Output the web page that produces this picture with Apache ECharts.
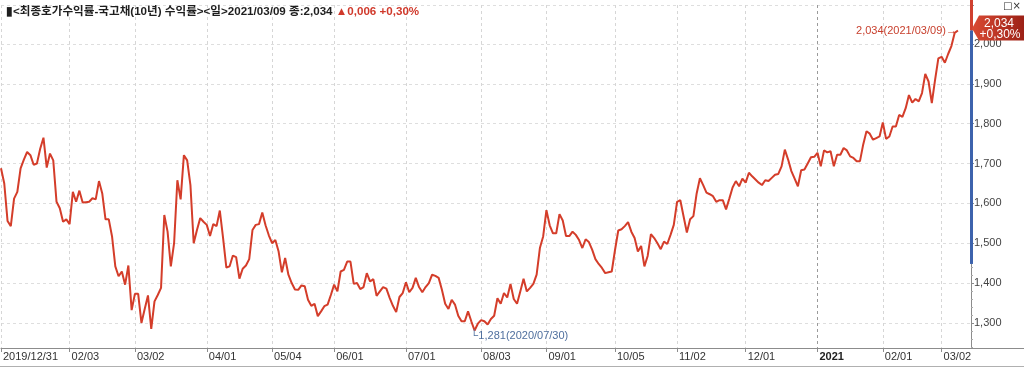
<!DOCTYPE html>
<html><head><meta charset="utf-8">
<script src="https://cdn.jsdelivr.net/npm/echarts@6/dist/echarts.min.js"></script>
<style>html,body{margin:0;padding:0;background:#fff;}#c{width:1024px;height:367px;}</style>
</head><body><div id="c"></div>
<script>
// ---- data ----
const startDate = [2019, 12, 31];
const endDate = [2021, 3, 9];
const holidays = ['2020/01/01','2020/01/24','2020/01/27','2020/04/15','2020/04/30','2020/05/01','2020/05/05',
  '2020/08/17','2020/09/30','2020/10/01','2020/10/02','2020/10/09','2020/12/25',
  '2021/01/01','2021/02/11','2021/02/12','2021/03/01'];
const tickDates = ['2019/12/31','2020/02/03','2020/03/02','2020/04/01','2020/05/04','2020/06/01','2020/07/01',
  '2020/08/03','2020/09/01','2020/10/05','2020/11/02','2020/12/01','2021/01/04','2021/02/01','2021/03/02'];
const tickLabels = ['2019/12/31','02/03','03/02','04/01','05/04','06/01','07/01',
  '08/03','09/01','10/05','11/02','12/01','2021','02/01','03/02'];
const yields1 = [
  1.688,1.650,1.556,1.543,1.612,1.629,1.688,1.710,1.729,1.721,
  1.697,1.700,1.737,1.765,1.690,1.725,1.708,1.604,1.588,1.554,
  1.560,1.548,1.629,1.604,1.632,1.602,1.603,1.604,1.613,1.610,
  1.656,1.625,1.560,1.560,1.517,1.442,1.417,1.429,1.396,1.444,
  1.332,1.373,1.373,1.300,1.335,1.369,1.285,1.354,1.370,1.388,
  1.571,1.529,1.442,1.500,1.658,1.610,1.721,1.708,1.646,1.500,
  1.533,1.563,1.554,1.546,1.518,1.548,1.543,1.582,1.513,1.439,
  1.442,1.469,1.465,1.411,1.436,1.444,1.460,1.533,1.546,1.548,
  1.577,1.545,1.520,1.500,1.508,1.479,1.427,1.463,1.421,1.400,
  1.384,1.383,1.394,1.392,1.358,1.343,1.348,1.317,1.329,1.342];
const yields2 = [
  1.346,1.370,1.396,1.379,1.429,1.433,1.454,1.454,1.398,1.400,
  1.385,1.390,1.425,1.404,1.410,1.368,1.379,1.390,1.386,1.363,
  1.343,1.327,1.365,1.375,1.402,1.377,1.388,1.413,1.390,1.377,
  1.390,1.400,1.421,1.418,1.413,1.383,1.348,1.335,1.358,1.346,
  1.318,1.304,1.304,1.329,1.304,1.281,1.298,1.307,1.304,1.296,
  1.310,1.318,1.362,1.348,1.375,1.364,1.398,1.360,1.348,1.379,
  1.411,1.379,1.388,1.398,1.421,1.488,1.517,1.583,1.545,1.525,
  1.525,1.573,1.557,1.518,1.518,1.529,1.521,1.508,1.488,1.510,
  1.503,1.484,1.460,1.448,1.438,1.425,1.427,1.429,1.483,1.532,
  1.535,1.543,1.553,1.529,1.513,1.479,1.493,1.442,1.468,1.523];
const yields3 = [
  1.513,1.500,1.485,1.504,1.498,1.521,1.546,1.604,1.608,1.567,
  1.527,1.560,1.568,1.625,1.663,1.646,1.627,1.623,1.618,1.604,
  1.608,1.608,1.585,1.612,1.640,1.656,1.643,1.662,1.652,1.677,
  1.668,1.660,1.652,1.646,1.658,1.656,1.664,1.672,1.674,1.693,
  1.735,1.710,1.681,1.662,1.643,1.683,1.685,1.700,1.716,1.717,
  1.727,1.693,1.733,1.728,1.731,1.693,1.722,1.722,1.739,1.733,
  1.718,1.714,1.706,1.706,1.748,1.781,1.775,1.760,1.764,1.768,
  1.803,1.762,1.768,1.793,1.793,1.822,1.817,1.839,1.872,1.853,
  1.862,1.856,1.877,1.925,1.906,1.852,1.910,1.964,1.968,1.953,
  1.975,1.995,2.028,2.034];
const axisBandLow = 1.448;   // lower end of the blue band on the price axis
const headerName = '<최종호가수익률-국고채(10년) 수익률><일>';
const changeAbs = 0.006, changePct = 0.30;

// ---- build ----
const pad2 = n => (n < 10 ? '0' : '') + n;
const fmtDate = d => d.getUTCFullYear() + '/' + pad2(d.getUTCMonth() + 1) + '/' + pad2(d.getUTCDate());
function buildDates() {
  const out = [];
  let t = Date.UTC(startDate[0], startDate[1] - 1, startDate[2]);
  const end = Date.UTC(endDate[0], endDate[1] - 1, endDate[2]);
  while (t <= end) {
    const d = new Date(t); const wd = d.getUTCDay(); const s = fmtDate(d);
    if (wd !== 0 && wd !== 6 && holidays.indexOf(s) < 0) out.push(s);
    t += 86400000;
  }
  return out;
}
const dates = buildDates();
const values = yields1.concat(yields2, yields3);
const categories = dates.concat(['p1','p2','p3','p4']);
const tickMap = {}; tickDates.forEach((d, k) => tickMap[d] = tickLabels[k]);
const isTick = (idx, val) => tickMap[val] !== undefined;
const fmtVal = v => v.toFixed(3).replace('.', ',');
const lastIdx = values.length - 1;
const lastVal = values[lastIdx];
let minIdx = 0; values.forEach((v, i) => { if (v < values[minIdx]) minIdx = i; });

const RED = '#d43d2a';
const splitColors = tickDates.map(d => d === '2021/01/04' ? '#9a9a9a' : '#d6d6d6');
const HF = 'Liberation Sans, Noto Sans CJK KR';

const chart = echarts.init(document.getElementById('c'), null, {renderer: 'canvas'});
const option = {
  animation: false,
  backgroundColor: '#fff',
  title: {
    left: 1, top: 1,
    text: '{k|▮' + headerName + dates[lastIdx] + ' 종:' + fmtVal(lastVal) + ' }{r|▲' + fmtVal(changeAbs) + ' +' + changePct.toFixed(2).replace('.', ',') + '%}',
    textStyle: {
      rich: {
        k: {fontSize: 11.6, color: '#1e1e1e', fontFamily: HF},
        r: {fontSize: 11.6, color: '#d0392b', fontFamily: HF}
      }
    }
  },
  grid: {left: 0, right: 53, top: 5, bottom: 19, containLabel: false},
  xAxis: {
    type: 'category', boundaryGap: false, data: categories,
    axisLine: {show: true, lineStyle: {color: '#8c8c8c', width: 1}},
    axisTick: {show: true, interval: isTick, length: 4, lineStyle: {color: '#8c8c8c'}},
    axisLabel: {
      interval: isTick, align: 'left', margin: 3, padding: [0, 0, 0, 2],
      fontSize: 11, color: '#333', fontFamily: 'Liberation Sans',
      formatter: v => v === '2021/01/04' ? '{b|2021}' : (tickMap[v] || ''),
      rich: {b: {fontSize: 11, fontWeight: 'bold', color: '#222', fontFamily: 'Liberation Sans'}}
    },
    splitLine: {show: true, interval: isTick, lineStyle: {color: splitColors, type: [3, 3], width: 1}}
  },
  yAxis: {
    type: 'value', position: 'right', min: 1.237, max: 2.098, splitNumber: 9, scale: true,
    axisLine: {show: true, lineStyle: {color: '#8c8c8c'}},
    axisTick: {show: true, length: 3, lineStyle: {color: '#8c8c8c'}},
    minorTick: {show: true, splitNumber: 5, length: 2, lineStyle: {color: '#aaa'}},
    axisLabel: {
      margin: 3, fontSize: 11, color: '#444', fontFamily: 'Liberation Sans',
      showMinLabel: false, showMaxLabel: false, formatter: v => fmtVal(v)
    },
    splitLine: {show: true, lineStyle: {color: '#dedede', type: [3, 3]}}
  },
  series: [{
    type: 'line', data: values, showSymbol: false, symbol: 'none',
    lineStyle: {color: RED, width: 2}, itemStyle: {color: RED},
    markPoint: {
      symbol: 'circle', symbolSize: 0, silent: true,
      data: [
        {coord: [dates[minIdx], values[minIdx]],
         label: {show: true, position: [-4, 0], align: 'left', verticalAlign: 'top',
                 fontSize: 11, color: '#4f6f9e', fontFamily: 'Liberation Sans, DejaVu Sans',
                 formatter: '└' + fmtVal(values[minIdx]) + '(' + dates[minIdx] + ')'}},
        {coord: [dates[lastIdx], lastVal],
         label: {show: true, position: 'left', distance: 1,
                 fontSize: 11, color: '#c8402e', fontFamily: 'Liberation Sans, DejaVu Sans',
                 formatter: fmtVal(lastVal) + '(' + dates[lastIdx] + ')→'}}
      ]
    }
  }]
};
chart.setOption(option);

// decorations on the price axis, positioned from values
const axisX = chart.convertToPixel({xAxisIndex: 0}, categories[categories.length - 1]);
const yLast = chart.convertToPixel({yAxisIndex: 0}, lastVal);
const yBand = chart.convertToPixel({yAxisIndex: 0}, axisBandLow);
const yBottom = chart.convertToPixel({yAxisIndex: 0}, 1.237);
const boxTop = yLast - 15, boxBot = yLast + 10;
chart.setOption({
  graphic: [
    {type: 'rect', shape: {x: axisX - 1, y: 0, width: 3, height: yLast}, style: {fill: '#d0402f'}, z: 10},
    {type: 'rect', shape: {x: axisX - 1, y: yLast, width: 3, height: yBand - yLast}, style: {fill: '#3d63ad'}, z: 10},
    {type: 'polygon', shape: {points: [[axisX + 1, yLast - 2], [axisX + 8, boxTop], [1024, boxTop], [1024, boxBot], [axisX + 8, boxBot]]},
     style: {fill: new echarts.graphic.LinearGradient(0, 0, 1, 0, [{offset: 0, color: '#da4a33'}, {offset: 1, color: '#9c2116'}])}, z: 11},
    {type: 'text', x: 999, y: boxTop + 2, style: {text: fmtVal(lastVal), fill: '#fff', fontSize: 12, fontFamily: 'Liberation Sans', align: 'center'}, z: 12},
    {type: 'text', x: 1000, y: boxTop + 13, style: {text: '+' + changePct.toFixed(2).replace('.', ',') + '%', fill: '#fff', fontSize: 12, fontFamily: 'Liberation Sans', align: 'center'}, z: 12},
    {type: 'line', shape: {x1: axisX, y1: yBottom + 0.5, x2: 1024, y2: yBottom + 0.5}, style: {stroke: '#8c8c8c', lineWidth: 1}, z: 5},
    {type: 'line', shape: {x1: 0, y1: 366.5, x2: 1024, y2: 366.5}, style: {stroke: '#b0b0b0', lineWidth: 1}, z: 5},
    {type: 'text', x: 1003, y: 1, style: {text: '□×', fill: '#333', fontSize: 10, fontFamily: 'DejaVu Sans'}, z: 12}
  ]
});
</script>
</body></html>
